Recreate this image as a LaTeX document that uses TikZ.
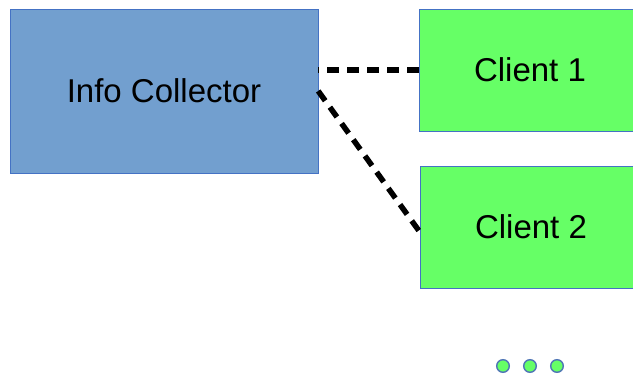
\documentclass[tikz,border=0pt]{standalone}
\usepackage{fontspec}
\setmainfont{Liberation Sans}
\usepackage{xcolor}
\usepackage{tikz}
\usetikzlibrary{arrows,positioning}

\definecolor{collectorblue}{RGB}{114,159,207}
\definecolor{clientgreen}{RGB}{102,255,102}
\definecolor{boxline}{RGB}{68,114,196}

\begin{document}
\begin{tikzpicture}[x=1pt,y=-1pt,auto,thin]
  \tikzstyle{every node}=[font=\fontsize{33}{38}\selectfont]
  \tikzstyle{box}=[draw=boxline,rectangle,inner sep=0pt]
  \tikzstyle{link}=[black,line width=5.5pt,dash pattern=on 12pt off 8pt]
  \tikzstyle{more}=[draw=boxline!80!gray,fill=clientgreen,line width=1.4pt]

  \useasboundingbox (0,0) rectangle (633,374);

  \node[box,fill=collectorblue,minimum width=308pt,minimum height=164pt] (I) at (164,91) {Info Collector};
  \node[box,fill=clientgreen,minimum width=222pt,minimum height=122pt]  (C1) at (530,70) {Client 1};
  \node[box,fill=clientgreen,minimum width=222pt,minimum height=122pt]  (C2) at (531,227) {Client 2};

  \draw[link] (C1.west) -- (C1.west -| I.east);
  \draw[link] (I.east) -- ([yshift=-5pt]C2.west);

  % more clients
  \foreach \x/\n in {503/d1,530/d2,557/d3}
    \draw[more] (\x,366) circle (6.3);
\end{tikzpicture}
\end{document}
